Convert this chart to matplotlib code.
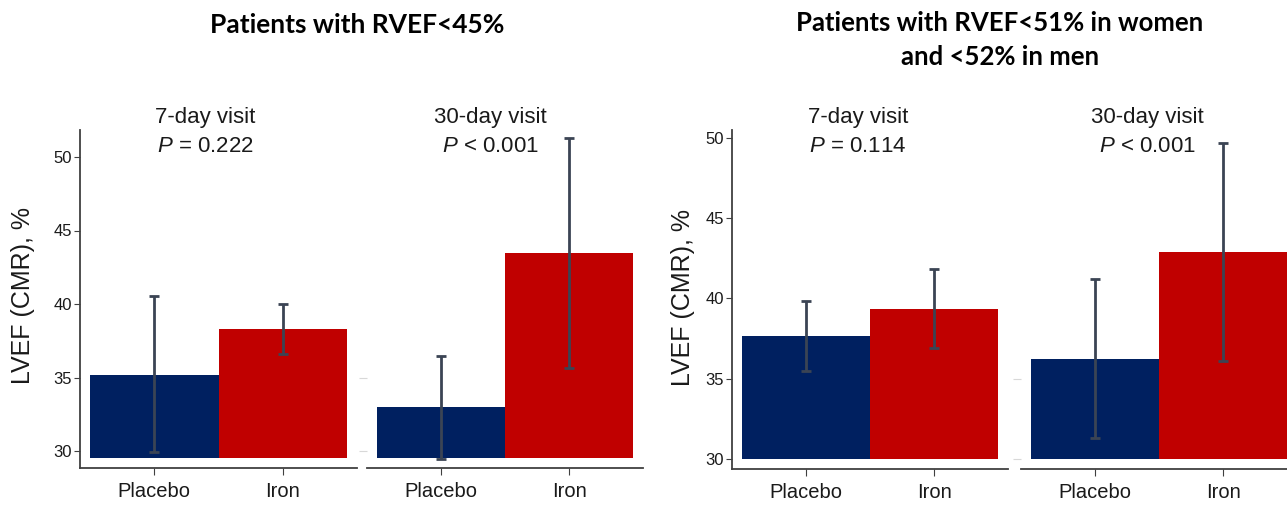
import numpy as np
import matplotlib
matplotlib.use("Agg")
import matplotlib.pyplot as plt

plt.rcParams['font.family'] = ['Liberation Sans', 'DejaVu Sans']
plt.rcParams['mathtext.fontset'] = 'custom'
plt.rcParams['mathtext.it'] = 'Liberation Sans:italic'
plt.rcParams['mathtext.rm'] = 'Liberation Sans'

# data
groups = ['Placebo', 'Iron']
titles = ['Patients with RVEF<45%', 'Patients with RVEF<51% in women\nand <52% in men']
visits = ['7-day visit', '30-day visit']
pvals = [['$\\mathit{P}$ = 0.222', '$\\mathit{P}$ < 0.001'],
         ['$\\mathit{P}$ = 0.114', '$\\mathit{P}$ < 0.001']]

# RVEF<45%: mean, lower, upper
rv45_7_mean = [35.2, 38.3]
rv45_7_lo = [29.95, 36.6]
rv45_7_hi = [40.55, 40.0]
rv45_30_mean = [33.0, 43.5]
rv45_30_lo = [29.45, 35.65]
rv45_30_hi = [36.45, 51.3]

# RVEF<51/52%
rv51_7_mean = [37.65, 39.35]
rv51_7_lo = [35.5, 36.9]
rv51_7_hi = [39.85, 41.85]
rv51_30_mean = [36.2, 42.9]
rv51_30_lo = [31.3, 36.1]
rv51_30_hi = [41.2, 49.7]

yticks = [30, 35, 40, 45, 50]
colors = ['#002060', '#C00000']
err_col = '#3b4454'
spine_col = '#404040'

W, H = 1287, 516
fig = plt.figure(figsize=(W / 100, H / 100), dpi=100)


def px_axes(x0, x1, y_top, y_bot):
    return fig.add_axes([x0 / W, 1 - y_bot / H, (x1 - x0) / W, (y_bot - y_top) / H])


def panel(ax, mean, lo, hi, base, ylim, first):
    x = np.arange(len(groups))
    mean = np.array(mean)
    ax.bar(x, mean - base, bottom=base, width=1.0, color=colors, zorder=2)
    ax.errorbar(x, mean, yerr=[mean - np.array(lo), np.array(hi) - mean],
                fmt='none', ecolor=err_col, elinewidth=2, capsize=3.5, capthick=2, zorder=3)
    ax.set_ylim(*ylim)
    ax.set_xlim(-0.575, 1.575)
    ax.set_xticks(x)
    ax.set_xticklabels(groups, fontsize=14.5, color='#1a1a1a')
    for s in ['top', 'right']:
        ax.spines[s].set_visible(False)
    ax.spines['bottom'].set_color(spine_col)
    ax.spines['bottom'].set_linewidth(1.3)
    ax.tick_params(axis='x', length=5, color=spine_col, pad=5)
    if first:
        ax.spines['left'].set_color(spine_col)
        ax.spines['left'].set_linewidth(1.3)
        ax.set_yticks(yticks)
        ax.tick_params(axis='y', length=4, color=spine_col, labelsize=12, pad=2,
                       labelcolor='#1a1a1a')
    else:
        ax.spines['left'].set_visible(False)
        ax.set_yticks([30, 35])
        ax.tick_params(axis='y', length=6, color='#d8d8d8', labelleft=False)


# left group: 14.7 px per unit, 30 at y=451
def lim_left(y_top, y_bot):
    return (30 - (y_bot - 451) / 14.7, 30 + (451 - y_top) / 14.7)


def lim_right(y_top, y_bot):
    return (30 - (y_bot - 459) / 16.05, 30 + (459 - y_top) / 16.05)


ax1 = px_axes(80, 357, 130, 468)
panel(ax1, rv45_7_mean, rv45_7_lo, rv45_7_hi, 29.5, lim_left(130, 468), True)
ax2 = px_axes(367, 643, 130, 468)
panel(ax2, rv45_30_mean, rv45_30_lo, rv45_30_hi, 29.5, lim_left(130, 468), False)
ax3 = px_axes(732, 1008, 130, 469)
panel(ax3, rv51_7_mean, rv51_7_lo, rv51_7_hi, 30, lim_right(130, 469), True)
ax4 = px_axes(1021, 1297, 130, 469)
panel(ax4, rv51_30_mean, rv51_30_lo, rv51_30_hi, 30, lim_right(130, 469), False)


def ftext(x, y, s, **kw):
    fig.text(x / W, 1 - y / H, s, ha='center', va='center', **kw)


ftext(357, 25, titles[0], fontsize=19, fontweight='bold', family=['Lato', 'DejaVu Sans'])
ftext(1000, 40, titles[1], fontsize=18.5, fontweight='bold', family=['Lato', 'DejaVu Sans'],
      linespacing=1.5)

sub_x = [[205, 490], [858, 1147]]
for g in range(2):
    for v in range(2):
        ftext(sub_x[g][v], 117, visits[v], fontsize=16, color='#1a1a1a')
        ftext(sub_x[g][v], 146, pvals[g][v], fontsize=16, color='#1a1a1a')

ftext(23, 296, 'LVEF (CMR), %', fontsize=18, rotation=90, color='#1a1a1a')
ftext(683, 298, 'LVEF (CMR), %', fontsize=18, rotation=90, color='#1a1a1a')

fig.savefig('out.png', dpi=100)
